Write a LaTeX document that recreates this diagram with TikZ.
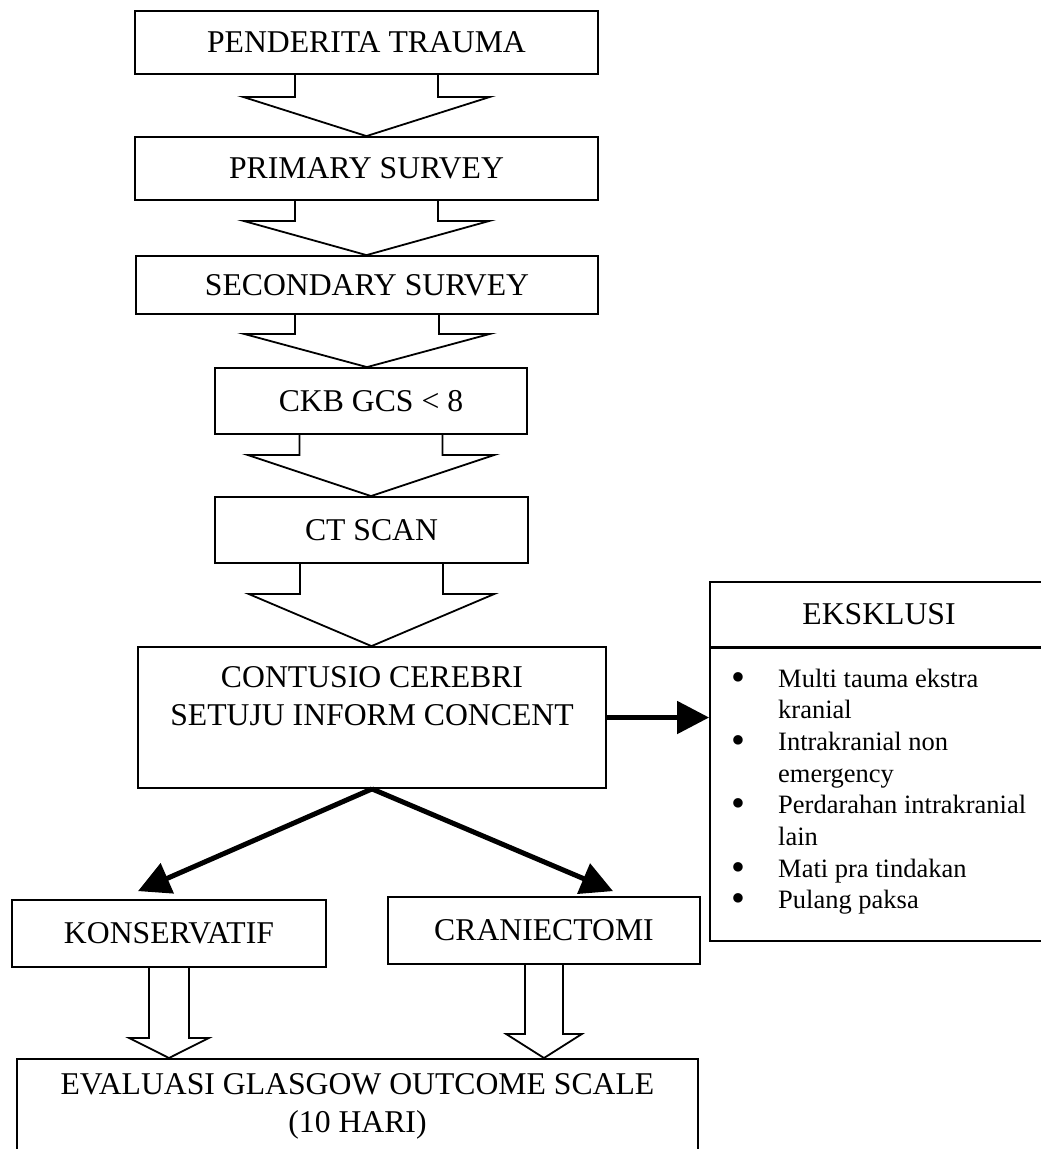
\documentclass[tikz,border=0pt]{standalone}
\usepackage{fontspec}
\usepackage{graphicx}
\setmainfont{Liberation Serif}
\usetikzlibrary{calc,arrows.meta}
\newcommand\blockarr[5]{%
  \draw[hollowarr] let \p1=(#1.south), \p2=(#2.north) in
    (\x1-#4pt,\y1) -- (\x1-#4pt,\y1-#3pt) -- (\x1-#5pt,\y1-#3pt) -- (\x1,\y2)
    -- (\x1+#5pt,\y1-#3pt) -- (\x1+#4pt,\y1-#3pt) -- (\x1+#4pt,\y1);}
\newcommand\bigbul{\smash{\raisebox{-3pt}{\scalebox{1.5}{\textbullet}}}}
\begin{document}
\begin{tikzpicture}[x=1pt,y=-1pt,
  box/.style={draw,line width=1.8pt,inner sep=0pt,font=\fontsize{31.7}{38}\selectfont},
  bodytext/.style={font=\fontsize{31.7}{38}\selectfont,inner sep=0pt,align=center},
  hollowarr/.style={draw,line width=1.8pt,line join=miter},
  thickarr/.style={line width=5pt,-{Triangle[length=32pt,width=32pt]}}]
\useasboundingbox[fill=white] (0,0) rectangle (1041,1149);

\node[box,minimum width=463pt,minimum height=63pt] (b1) at (366.5,42.5) {PENDERITA TRAUMA};
\node[box,minimum width=463pt,minimum height=63pt] (b2) at (366.5,168.5) {PRIMARY SURVEY};
\node[box,minimum width=462pt,minimum height=58pt] (b3) at (367,285) {SECONDARY SURVEY};
\node[box,minimum width=312pt,minimum height=66pt] (b4) at (371,401) {CKB GCS < 8};
\node[box,minimum width=313pt,minimum height=66pt] (b5) at (371.5,530) {CT SCAN};
\node[box,minimum width=468pt,minimum height=141pt] (b6) at (372,717.5) {};
\node[bodytext] (b6t) at (372,696) {CONTUSIO CEREBRI\\SETUJU INFORM CONCENT};
\node[box,minimum width=314pt,minimum height=67pt] (kons) at (169,933.5) {KONSERVATIF};
\node[box,minimum width=312pt,minimum height=67pt] (cran) at (544,930.5) {CRANIECTOMI};
\node[box,minimum width=681pt,minimum height=140pt,anchor=north] (gos) at (357.5,1058) {};
\node[bodytext] (gost) at (357.5,1106.5) {EVALUASI GLASGOW OUTCOME SCALE\\(10 HARI)};

\node[box,minimum width=338pt,minimum height=65pt] (exh) at (879,614.5) {EKSKLUSI};
\node[box,minimum width=338pt,minimum height=293pt,anchor=north] (exl) at (879,647) {};
\node[anchor=base west,inner sep=0pt,font=\fontsize{26.5}{31.7}\selectfont] (exlt) at (731,687)
  {\begin{tabular}[t]{@{}p{47pt}@{}l@{}}
   \bigbul & Multi tauma ekstra\\
           & kranial\\
   \bigbul & Intrakranial non\\
           & emergency\\
   \bigbul & Perdarahan intrakranial\\
           & lain\\
   \bigbul & Mati pra tindakan\\
   \bigbul & Pulang paksa
   \end{tabular}};

\blockarr{b1}{b2}{22}{71.5}{123.5}
\blockarr{b2}{b3}{20}{71.5}{123}
\blockarr{b3}{b4}{19}{72}{123}
\blockarr{b4}{b5}{20}{71.5}{123.5}
\blockarr{b5}{b6}{30}{71.5}{123}
\blockarr{kons}{gos}{70}{20}{40}
\blockarr{cran}{gos}{69}{19}{38}

\draw[thickarr] (b6.east) -- (b6.east -| exl.west);
\draw[thickarr] (b6.south) -- ($(kons.north)+(-31,-8)$);
\draw[thickarr] (b6.south) -- ($(cran.north)+(69,-5)$);
\end{tikzpicture}
\end{document}
